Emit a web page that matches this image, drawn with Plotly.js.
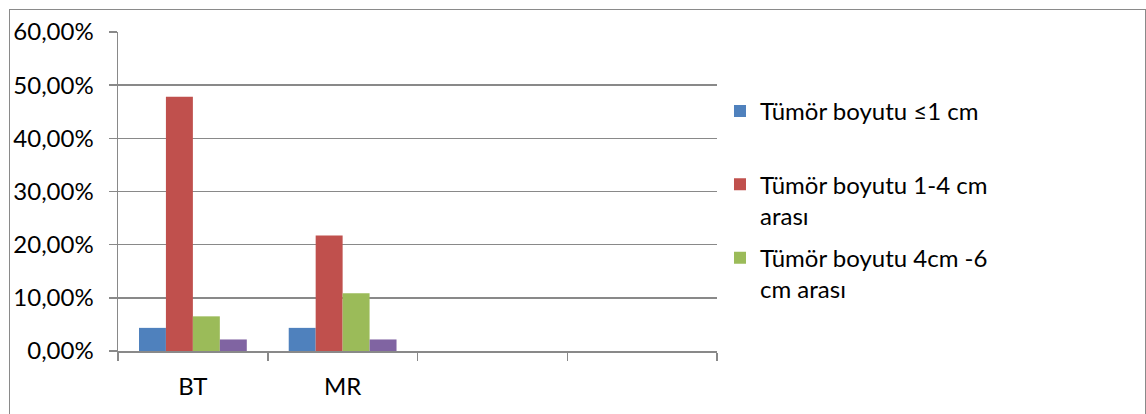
<!DOCTYPE html>
<html>
<head>
<meta charset="utf-8">
<script src="https://cdn.plot.ly/plotly-3.0.1.min.js"></script>
<style>
  html, body { margin: 0; padding: 0; background: #fff; }
  #frame { position: absolute; left: 9px; top: 9px; width: 1137px; height: 420px;
           border: 1.5px solid #8a8a8a; box-sizing: border-box; }
  #chart { position: absolute; left: 0; top: 0; width: 1146px; height: 414px; }
</style>
</head>
<body>
<div id="frame"></div>
<div id="chart"></div>
<script>
// Data
const categories = ['BT', 'MR', ' ', '  '];
const seriesNames = [
  'Tümör boyutu ≤1 cm<br>\u00a0',
  'Tümör boyutu 1-4 cm<br>arası',
  'Tümör boyutu 4cm -6<br>cm arası',
  'Tümör boyutu >6 cm'
];
const s1 = [0.0435, 0.0435, null, null];
const s2 = [0.4783, 0.2174, null, null];
const s3 = [0.0652, 0.1087, null, null];
const s4 = [0.0217, 0.0217, null, null];
const yTicks = [0, 0.1, 0.2, 0.3, 0.4, 0.5, 0.6];

const colors = ['#4F81BD', '#C0504D', '#9BBB59', '#8064A2'];
const values = [s1, s2, s3, s4];
const showInLegend = [true, true, true, false];

const traces = values.map((v, i) => ({
  type: 'bar',
  name: seriesNames[i],
  x: categories,
  y: v,
  marker: { color: colors[i], line: { width: 0 } },
  showlegend: showInLegend[i],
  legendgroup: 'g' + i,
  hoverinfo: 'none'
}));

const gray = '#898989';
const layout = {
  width: 1146,
  height: 414,
  margin: { l: 118, r: 429, t: 32, b: 63 },
  paper_bgcolor: 'rgba(0,0,0,0)',
  plot_bgcolor: 'rgba(0,0,0,0)',
  separators: ',.',
  font: { family: 'Lato, "Noto Sans", sans-serif', size: 24, color: '#000' },
  barmode: 'group',
  bargap: 0.28,
  bargroupgap: 0,
  xaxis: {
    type: 'category',
    categoryorder: 'array',
    categoryarray: categories,
    range: [-0.5, 3.5],
    tickson: 'boundaries',
    ticks: 'outside',
    ticklen: 8,
    tickwidth: 1.5,
    tickcolor: gray,
    showline: true,
    linecolor: gray,
    linewidth: 2,
    showgrid: false,
    zeroline: false,
    ticklabelstandoff: 13,
    tickfont: { size: 24, color: '#000' }
  },
  yaxis: {
    range: [0, 0.6],
    tickvals: yTicks,
    tickformat: '.2%',
    ticks: 'outside',
    ticklen: 8,
    tickwidth: 1.5,
    tickcolor: gray,
    showline: true,
    linecolor: gray,
    linewidth: 1.5,
    showgrid: true,
    gridcolor: gray,
    gridwidth: 1.5,
    zeroline: false,
    ticklabelstandoff: 10,
    tickfont: { size: 24, color: '#000' }
  },
  legend: {
    x: 1.005,
    xanchor: 'left',
    y: 0.822,
    yanchor: 'top',
    traceorder: 'grouped',
    tracegroupgap: 8,
    valign: 'top',
    itemwidth: 30,
    bgcolor: 'rgba(0,0,0,0)',
    font: { size: 24, color: '#000' }
  },
  showlegend: true
};

Plotly.newPlot('chart', traces, layout, { displayModeBar: false, staticPlot: true });
</script>
</body>
</html>
